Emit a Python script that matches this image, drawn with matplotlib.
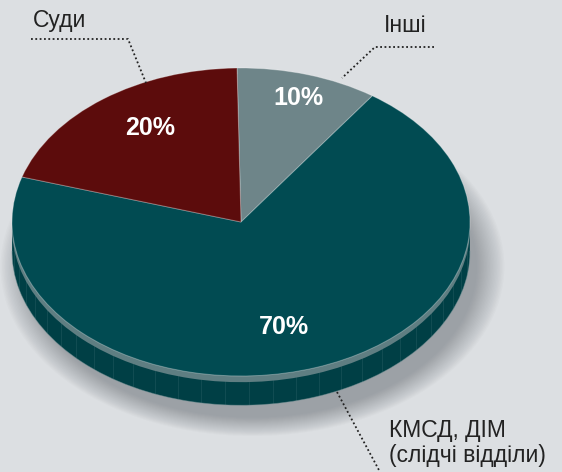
import numpy as np
import matplotlib.pyplot as plt
from matplotlib.patches import Rectangle, Ellipse

plt.rcParams["font.family"] = ["Liberation Sans", "DejaVu Sans"]

# data (clockwise from the top)
labels = ["Інші", "КМСД, ДІМ\n(слідчі відділи)", "Суди"]
shares = [10, 70, 20]
pct_text = ["10%", "70%", "20%"]

top_colors = ["#6e8589", "#014b52", "#5c0c0c"]
side_colors = ["#5b6f72", "#003f45", "#4a0808"]
lip_colors = ["#7f9498", "#5f7e82", "#7a2a2a"]
bg = "#dcdfe2"

W, H = 562, 472
cx, cy, rx, ry = 241, 222, 229, 154   # ellipse of the top face, in pixels
depth = 0.19
start = 91

fig = plt.figure(figsize=(W / 100, H / 100), dpi=100)
fig.patch.set_facecolor(bg)
ax = fig.add_axes([0, 0, 1, 1])

# soft shadow under the disc
for s in np.linspace(1.1, 0.98, 20):
    ax.add_patch(Ellipse((0.05, -depth - 0.1), 2 * s, 2 * s, color="#4a5258",
                         alpha=0.022, lw=0, zorder=0))

pie_kw = dict(startangle=start, counterclock=False, frame=True)
ax.pie(shares, colors=side_colors, center=(0, -depth),
       wedgeprops=dict(linewidth=0), **pie_kw)
ax.add_patch(Rectangle((-1, -depth), 2, depth, color=side_colors[1], lw=0, zorder=1))

# thin facets on the rim
ang = np.radians(np.arange(-178, 0, 6))
ax.vlines(np.cos(ang), np.sin(ang) - depth, np.sin(ang), color="#7fa0a4",
          lw=0.5, alpha=0.2, zorder=2)
a2 = np.linspace(np.pi, 2 * np.pi, 200)
ax.plot(np.cos(a2), np.sin(a2) - depth, color="#6f8f93", lw=0.6, alpha=0.5, zorder=2)

ax.pie(shares, colors=lip_colors, center=(0, -0.04),
       wedgeprops=dict(linewidth=0, zorder=3), **pie_kw)
ax.pie(shares, colors=top_colors, center=(0, 0),
       wedgeprops=dict(linewidth=0.7, edgecolor=(1, 1, 1, 0.3), zorder=4), **pie_kw)

ax.set_aspect("auto")
ax.set_xlim(-cx / rx, (W - cx) / rx)
ax.set_ylim((cy - H) / ry, cy / ry)
ax.axis("off")

# overlay in pixel coordinates for annotations
ov = fig.add_axes([0, 0, 1, 1], facecolor="none")
ov.set_xlim(0, W)
ov.set_ylim(H, 0)
ov.axis("off")

dot = dict(color="#222222", lw=1.3, linestyle=(0, (1, 1.4)))
ov.plot([31, 128, 146], [39, 39, 83], **dot)
ov.plot([434, 375, 342], [47, 47, 78], **dot)
ov.plot([337, 380], [392, 472], **dot)

lab_kw = dict(fontsize=16.5, color="#222222", ha="left", va="center")
ov.text(33, 21, labels[2], **lab_kw)
ov.text(384, 26, labels[0], **lab_kw)
ov.text(389, 443, labels[1], linespacing=1.1, **lab_kw)

pct_pos = [(298, 98), (284, 327), (150, 128)]
for (x, y), t in zip(pct_pos, pct_text):
    ov.text(x, y, t, fontsize=18, fontweight="bold", color="white",
            ha="center", va="center")

fig.savefig("out.png", dpi=100, facecolor=bg)
